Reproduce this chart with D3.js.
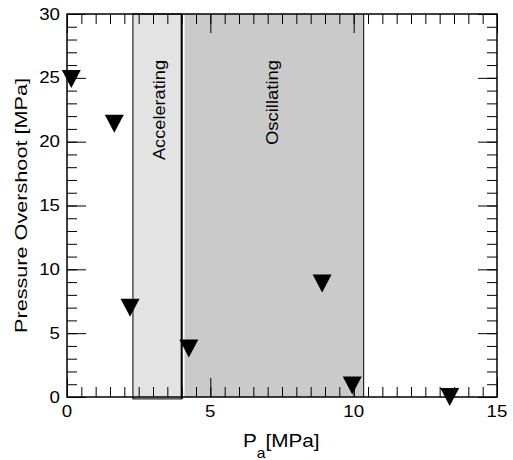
<!DOCTYPE html>
<html>
<head>
<meta charset="utf-8">
<script src="https://cdn.jsdelivr.net/npm/d3@7"></script>
<style>
  body { margin: 0; background: #fff; }
  svg { font-family: "Liberation Sans", Arial, sans-serif; }
</style>
</head>
<body>
<div class="visuals"></div>
<script>
// data
var pa = [0.15, 1.65, 2.2, 4.25, 8.9, 9.95, 13.35];
var overshoot = [24.9, 21.4, 7.0, 3.8, 8.9, 0.9, 0.0];
var xTicks = [0, 5, 10, 15];
var yTicks = [0, 5, 10, 15, 20, 25, 30];
var regionNames = ['Accelerating', 'Oscillating'];
var regionFrom = [2.3, 4.1];
var regionTo = [4.0, 10.35];
var regionFill = ['#e3e3e3', '#cacaca'];

var width = 513, height = 460;
var margin = {left: 67, top: 14, right: 16, bottom: 63};

var svg = d3.select('.visuals').append('svg')
  .attr('width', width)
  .attr('height', height);

var x = d3.scaleLinear().domain([0, 15]).range([margin.left, width - margin.right]);
var y = d3.scaleLinear().domain([0, 30]).range([height - margin.bottom, margin.top]);

// shaded regions
svg.append('rect')
  .attr('x', x(regionFrom[0]))
  .attr('y', y(30))
  .attr('width', x(regionTo[0]) - x(regionFrom[0]))
  .attr('height', y(-0.15) - y(30))
  .style('fill', regionFill[0])
  .style('stroke', 'black')
  .style('stroke-width', '1px');
svg.append('line')
  .attr('x1', x(regionTo[0])).attr('x2', x(regionTo[0]))
  .attr('y1', y(30)).attr('y2', y(-0.15))
  .style('stroke', 'black').style('stroke-width', '2px');

svg.append('rect')
  .attr('x', x(regionFrom[1]))
  .attr('y', y(30))
  .attr('width', x(regionTo[1]) - x(regionFrom[1]))
  .attr('height', y(0) - y(30))
  .style('fill', regionFill[1]);
svg.append('line')
  .attr('x1', x(regionTo[1])).attr('x2', x(regionTo[1]))
  .attr('y1', y(30)).attr('y2', y(0))
  .style('stroke', 'black').style('stroke-width', '1px');

var labelX = [165, 278];
var labelLen = [100, 85];
svg.selectAll('.region-label')
  .data(regionNames)
  .enter().append('text')
  .attr('class', 'region-label')
  .attr('transform', function(d, i){
    return 'translate(' + labelX[i] + ',60) rotate(-90)';
  })
  .attr('text-anchor', 'end')
  .attr('textLength', function(d, i){ return labelLen[i]; })
  .attr('lengthAdjust', 'spacingAndGlyphs')
  .style('font-size', '17px')
  .text(function(d){ return d; });

// axes: ticks inward on all four sides
var xMinor = d3.range(0, 15.01, 0.5);
var yMinor = d3.range(0, 30.01, 1);

svg.append('g')
  .attr('transform', 'translate(0,' + y(0) + ')')
  .call(d3.axisTop(x).tickValues(xMinor).tickSize(10).tickFormat(''));
svg.append('g')
  .attr('transform', 'translate(0,' + y(0) + ')')
  .call(d3.axisTop(x).tickValues(xTicks).tickSize(19).tickFormat(''));
svg.append('g')
  .attr('transform', 'translate(0,' + y(30) + ')')
  .call(d3.axisBottom(x).tickValues(xMinor).tickSize(10).tickFormat(''));
svg.append('g')
  .attr('transform', 'translate(0,' + y(30) + ')')
  .call(d3.axisBottom(x).tickValues(xTicks).tickSize(19).tickFormat(''));
svg.append('g')
  .attr('transform', 'translate(' + x(0) + ',0)')
  .call(d3.axisRight(y).tickValues(yMinor).tickSize(10).tickFormat(''));
svg.append('g')
  .attr('transform', 'translate(' + x(0) + ',0)')
  .call(d3.axisRight(y).tickValues(yTicks).tickSize(19).tickFormat(''));
svg.append('g')
  .attr('transform', 'translate(' + x(15) + ',0)')
  .call(d3.axisLeft(y).tickValues(yMinor).tickSize(10).tickFormat(''));
svg.append('g')
  .attr('transform', 'translate(' + x(15) + ',0)')
  .call(d3.axisLeft(y).tickValues(yTicks).tickSize(19).tickFormat(''));

svg.selectAll('.domain').remove();
svg.selectAll('.tick line').style('stroke', 'black').style('stroke-width', '1px');

svg.append('rect')
  .attr('x', x(0)).attr('y', y(30))
  .attr('width', x(15) - x(0)).attr('height', y(0) - y(30))
  .style('fill', 'none').style('stroke', 'black').style('stroke-width', '1.5px');

// tick labels
var digitW = 10.4;
svg.selectAll('.xlab')
  .data(xTicks)
  .enter().append('text')
  .attr('x', function(d){ return x(d); })
  .attr('y', y(0) + 20)
  .attr('text-anchor', 'middle')
  .attr('textLength', function(d){ return String(d).length * digitW; })
  .attr('lengthAdjust', 'spacingAndGlyphs')
  .style('font-size', '17px')
  .text(function(d){ return d; });

svg.selectAll('.ylab')
  .data(yTicks)
  .enter().append('text')
  .attr('x', x(0) - 7)
  .attr('y', function(d){ return y(d) + 5.5; })
  .attr('text-anchor', 'end')
  .attr('textLength', function(d){ return String(d).length * digitW; })
  .attr('lengthAdjust', 'spacingAndGlyphs')
  .style('font-size', '17px')
  .text(function(d){ return d; });

// axis titles
var xt = svg.append('text')
  .attr('transform', 'translate(243,447) scale(1.12,1)')
  .style('font-size', '18.5px');
xt.append('tspan').text('P');
xt.append('tspan').attr('dy', 11).style('font-size', '14px').text('a');
xt.append('tspan').attr('dy', -11).text('[MPa]');

svg.append('text')
  .attr('transform', 'translate(27,' + ((y(0) + y(30)) / 2) + ') rotate(-90)')
  .attr('text-anchor', 'middle')
  .attr('textLength', 255)
  .attr('lengthAdjust', 'spacingAndGlyphs')
  .style('font-size', '17px')
  .text('Pressure Overshoot [MPa]');

// markers: downward triangles
svg.selectAll('.pt')
  .data(pa)
  .enter().append('path')
  .attr('class', 'pt')
  .attr('d', 'M-9.5,-9 L9.5,-9 L0,9 Z')
  .attr('transform', function(d, i){ return 'translate(' + x(d) + ',' + y(overshoot[i]) + ')'; })
  .style('fill', 'black');
</script>
</body>
</html>
